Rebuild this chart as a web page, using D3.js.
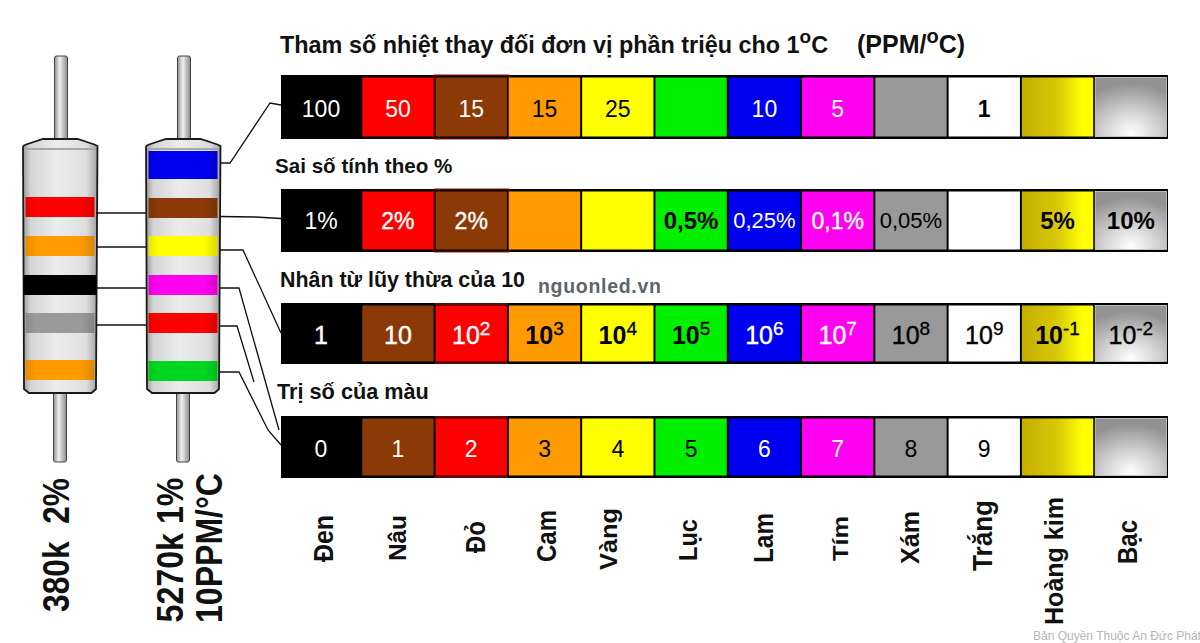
<!DOCTYPE html>
<html><head><meta charset="utf-8">
<script src="https://cdn.jsdelivr.net/npm/d3@7/dist/d3.min.js"></script>
<style>html,body{margin:0;background:#fff}svg{display:block}text{font-family:"Liberation Sans",Arial,sans-serif;white-space:pre}</style>
</head><body><svg id="c" width="1200" height="643"></svg>
<script>
const categories=["Đen","Nâu","Đỏ","Cam","Vàng","Lục","Lam","Tím","Xám","Trắng","Hoàng kim","Bạc"];
const fills=["#000000","#8b3a06","#ff0000","#ff9a00","#ffff00","#00f000","#0000f0","#ff00f0","#999999","#ffffff","url(#gold)","url(#silver)"];
const ppmOrder=["Đen","Đỏ","Nâu","Cam","Vàng","Lục","Lam","Tím","Xám","Trắng","Hoàng kim","Bạc"];
const ppmLabels=["100","50","15","15","25","","10","5","","1","",""];
const tolLabels=["1%","2%","2%","","","0,5%","0,25%","0,1%","0,05%","","5%","10%"];
const tolBold=[0,0,0,0,0,1,0,0,0,0,1,1];
const multBase=["1","10","10","10","10","10","10","10","10","10","10","10"];
const multExp=["","","2","3","4","5","6","7","8","9","-1","-2"];
const multBold=[0,0,0,1,1,1,0,0,0,0,1,0];
const digitLabels=["0","1","2","3","4","5","6","7","8","9","",""];
const rowNames=["ppm","tol","mult","digit"];
const rowTitles=["Sai số tính theo %","Nhân từ lũy thừa của 10","Trị số của màu"];
const res1Bands=["#ff0000","#ff9a00","#000000","#9a9a9a","#ff9a00"];
const res2Bands=["#0000f0","#8b3a06","#ffff00","#ff00f0","#ff0000","#00d820"];
const res1Label="380k  2%";
const res2Labels=["5270k 1%","10PPM/°C"];

const svg=d3.select("#c");
const defs=svg.append("defs");
function lg(id,stops){const g=defs.append("linearGradient").attr("id",id).attr("x1",0).attr("y1",0).attr("x2",1).attr("y2",0);
 stops.forEach(([o,c,a])=>g.append("stop").attr("offset",o).attr("stop-color",c).attr("stop-opacity",a==null?1:a));}
lg("gold",[[0,"#c4ae00"],[.5,"#d8c808"],[.85,"#ffff00"],[1,"#ffff00"]]);
const rg=defs.append("radialGradient").attr("id","silver").attr("cx",.5).attr("cy",.95).attr("r",.85);
[[0,"#ffffff"],[.45,"#d2d2d2"],[1,"#929292"]].forEach(([o,c])=>rg.append("stop").attr("offset",o).attr("stop-color",c));
lg("body",[[0,"#9a9a9a"],[.1,"#d4d4d4"],[.45,"#ececec"],[.85,"#dedede"],[1,"#a0a0a0"]]);
lg("lead",[[0,"#8f8f8f"],[.4,"#f0f0f0"],[1,"#8a8a8a"]]);
lg("shade",[[0,"#000",.10],[.15,"#000",0],[.8,"#000",0],[1,"#000",.14]]);

const x=d3.scaleBand().domain(d3.range(12)).range([289,1166.5]).paddingInner(0.027).paddingOuter(0);
const stripX=d3.scaleLinear().domain([0,1]).range([281,1168]);
const rowH={ppm:64,tol:63,mult:61,digit:62};
const rowTop={ppm:75,tol:189,mult:303,digit:416};
const rowNudge={ppm:2,tol:0,mult:1.5,digit:2};
const labelX=i=>i===0?321:x(i)+x.bandwidth()/2;

function row(name,order,draw){
 const g=svg.append("g");
 const t=rowTop[name],h=rowH[name];
 g.append("rect").attr("x",stripX(0)).attr("y",t).attr("width",stripX(1)-stripX(0)).attr("height",h).attr("fill","#000");
 order.forEach((c,i)=>{
  const f=fills[categories.indexOf(c)];
  g.append("rect").attr("x",x(i)).attr("y",t+2.5).attr("width",x.bandwidth()).attr("height",h-5).attr("fill",f)
   .attr("stroke",c==="Bạc"?"#d8d8d8":"none").attr("stroke-width",c==="Bạc"?.8:0);
  if(i===2&&(name==="ppm"||name==="tol")) g.append("rect").attr("x",x(i)-1.5).attr("y",t).attr("width",x.bandwidth()+3.5).attr("height",h).attr("fill","none").attr("stroke","#a01408").attr("stroke-width",1);
  if(i===2&&(name==="mult"||name==="digit")) [t+1,t+h-1].forEach(v=>g.append("line").attr("x1",x(i)-1).attr("x2",x(i)+x.bandwidth()+1).attr("y1",v).attr("y2",v).attr("stroke","#7a1008").attr("stroke-width",1.4));
  draw(g,i,c,t+h/2+rowNudge[name]);
 });
}
const light=new Set(["Đen","Nâu","Đỏ","Lam","Tím"]);
const txtCol=c=>light.has(c)?"#fff":"#000";
function T(g,i,c,cy,s,size,bold,heavy){g.append("text").attr("x",labelX(i)).attr("y",cy+size*.36).attr("text-anchor","middle")
 .attr("font-size",size).attr("font-weight",bold?"bold":"normal").attr("fill",txtCol(c))
 .attr("stroke",heavy?txtCol(c):"none").attr("stroke-width",heavy?.4:0).text(s);}
row("ppm",ppmOrder,(g,i,c,cy)=>T(g,i,c,cy,ppmLabels[i],23,ppmLabels[i]==="1"));
row("tol",ppmOrder,(g,i,c,cy)=>T(g,i,c,cy,tolLabels[i],tolBold[i]?24:(tolLabels[i].length>4?22:23),tolBold[i],tolLabels[i]==="0,1%"||tolLabels[i]==="2%"));
row("mult",categories,(g,i,c,cy)=>{
 const t=g.append("text").attr("x",labelX(i)).attr("y",cy+9).attr("text-anchor","middle").attr("fill",txtCol(c))
  .attr("stroke",multBold[i]?"none":txtCol(c)).attr("stroke-width",multBold[i]?0:.4)
  .attr("font-weight",multBold[i]?"bold":"normal").attr("font-size",25).text(multBase[i]);
 if(multExp[i]) t.append("tspan").attr("dy",-9).attr("font-size",19).attr("font-weight","normal").attr("stroke",txtCol(c)).attr("stroke-width",.3).text(multExp[i]);
});
row("digit",categories,(g,i,c,cy)=>T(g,i,c,cy,digitLabels[i],23,false));

// titles
const title=svg.append("text").attr("x",280).attr("y",53).attr("font-size",23.4).attr("font-weight","bold").attr("fill","#111");
title.append("tspan").text("Tham số nhiệt thay đối đơn vị phần triệu cho 1");
title.append("tspan").attr("dy",-10).attr("font-size",19).text("o");
title.append("tspan").attr("dy",10).text("C");
const t2=svg.append("text").attr("x",857).attr("y",53).attr("font-size",25).attr("font-weight","bold").attr("fill","#111");
t2.append("tspan").text("(PPM/");t2.append("tspan").attr("dy",-10).attr("font-size",20).text("o");t2.append("tspan").attr("dy",10).text("C)");
[[275,173,20.6],[280,287,21.4],[277,399,21.7]].forEach(([a,b,s],i)=>svg.append("text").attr("x",a).attr("y",b).attr("font-size",s).attr("font-weight","bold").attr("fill","#111").text(rowTitles[i]));
svg.append("text").attr("x",538).attr("y",293).attr("font-size",19.5).attr("letter-spacing",.7).attr("font-weight","bold").attr("fill","#5a6570").text("nguonled.vn");

// category labels: baseline x, bottom y, top y, font size
const catBase=[333,406,485,556,617,697,773,848,919,992,1063,1137];
const catBottom=[562,561,553,562,570,561,563,561,564,571,625,564];
const catTop=[515,515,521,510,508,519,513,516,511,500,497,520];
const catSize=[28,24,28,28,24,26,28,22,26,28,25,28];
categories.forEach((c,i)=>{
 svg.append("text").attr("transform",`translate(${catBase[i]},${catBottom[i]}) rotate(-90)`)
  .attr("font-size",catSize[i]).attr("font-weight","bold").attr("fill","#111")
  .attr("textLength",catBottom[i]-catTop[i]).attr("lengthAdjust","spacingAndGlyphs").text(c);
});
svg.append("text").attr("x",1033).attr("y",640).attr("font-size",12).attr("fill","#b5b5b5").text("Bản Quyền Thuộc An Đức Phát");

// resistors
function resistor(cx,bands,ys,hs){
 const g=svg.append("g"),L=cx-37.5,R=cx+37;
 g.append("rect").attr("x",cx-6).attr("y",56).attr("width",13).attr("height",86).attr("rx",2).attr("fill","url(#lead)").attr("stroke","#444").attr("stroke-width",1);
 g.append("rect").attr("x",cx-7).attr("y",388).attr("width",13).attr("height",74).attr("rx",2).attr("fill","url(#lead)").attr("stroke","#444").attr("stroke-width",1);
 g.append("path").attr("d",d3.line()([[L,146],[L+3,144.5],[L+20,139],[R-20,139],[R-3,144.5],[R,146],[R-1.5,389],[R-6,393],[L+6,393],[L+1,389],[L,146]])).attr("fill","url(#body)").attr("stroke","#1a1a1a").attr("stroke-width",1.8);
 g.append("line").attr("x1",L+2).attr("x2",R-2).attr("y1",149).attr("y2",149).attr("stroke","#a8a8a8").attr("stroke-width",2);
 bands.forEach((c,i)=>{
  const wide=c==="#000000";
  [c,"url(#shade)"].forEach(f=>g.append("rect").attr("x",wide?L+.5:L+2.5).attr("y",ys[i]).attr("width",wide?73:69).attr("height",hs[i]).attr("fill",f));
 });
}
resistor(60.5,res1Bands,[197,236,275,313,360],[20,20,20,20,20]);
resistor(183.5,res2Bands,[151,198,236,275,313,361],[28,20,20,20,20,20]);

const wires=[
 [[96,213],[146,213]],[[96,247],[146,247]],[[96,288],[146,288]],[[96,325],[146,325]],
 [[220,163],[230,163],[270,103],[281,105]],
 [[220,216.5],[255,217],[281,218.5]],
 [[220,250],[243,250],[281,333]],
 [[220,288],[239,288],[279,430]],
 [[220,326],[237,326],[254,382]],
 [[220,372],[239,372],[268,430],[281,445]]
];
svg.append("g").selectAll("path").data(wires).join("path").attr("d",d3.line()).attr("fill","none").attr("stroke","#111").attr("stroke-width",1.3);

// rotated resistor labels
const rot=(xx,yy,len,s)=>svg.append("text").attr("transform",`translate(${xx},${yy}) rotate(-90)`).attr("font-size",36).attr("font-weight","bold").attr("fill","#111").attr("textLength",len).attr("lengthAdjust","spacingAndGlyphs").text(s);
rot(69,612,134,res1Label);rot(183,622.5,145,res2Labels[0]);rot(222,623,150,res2Labels[1]);
</script></body></html>
